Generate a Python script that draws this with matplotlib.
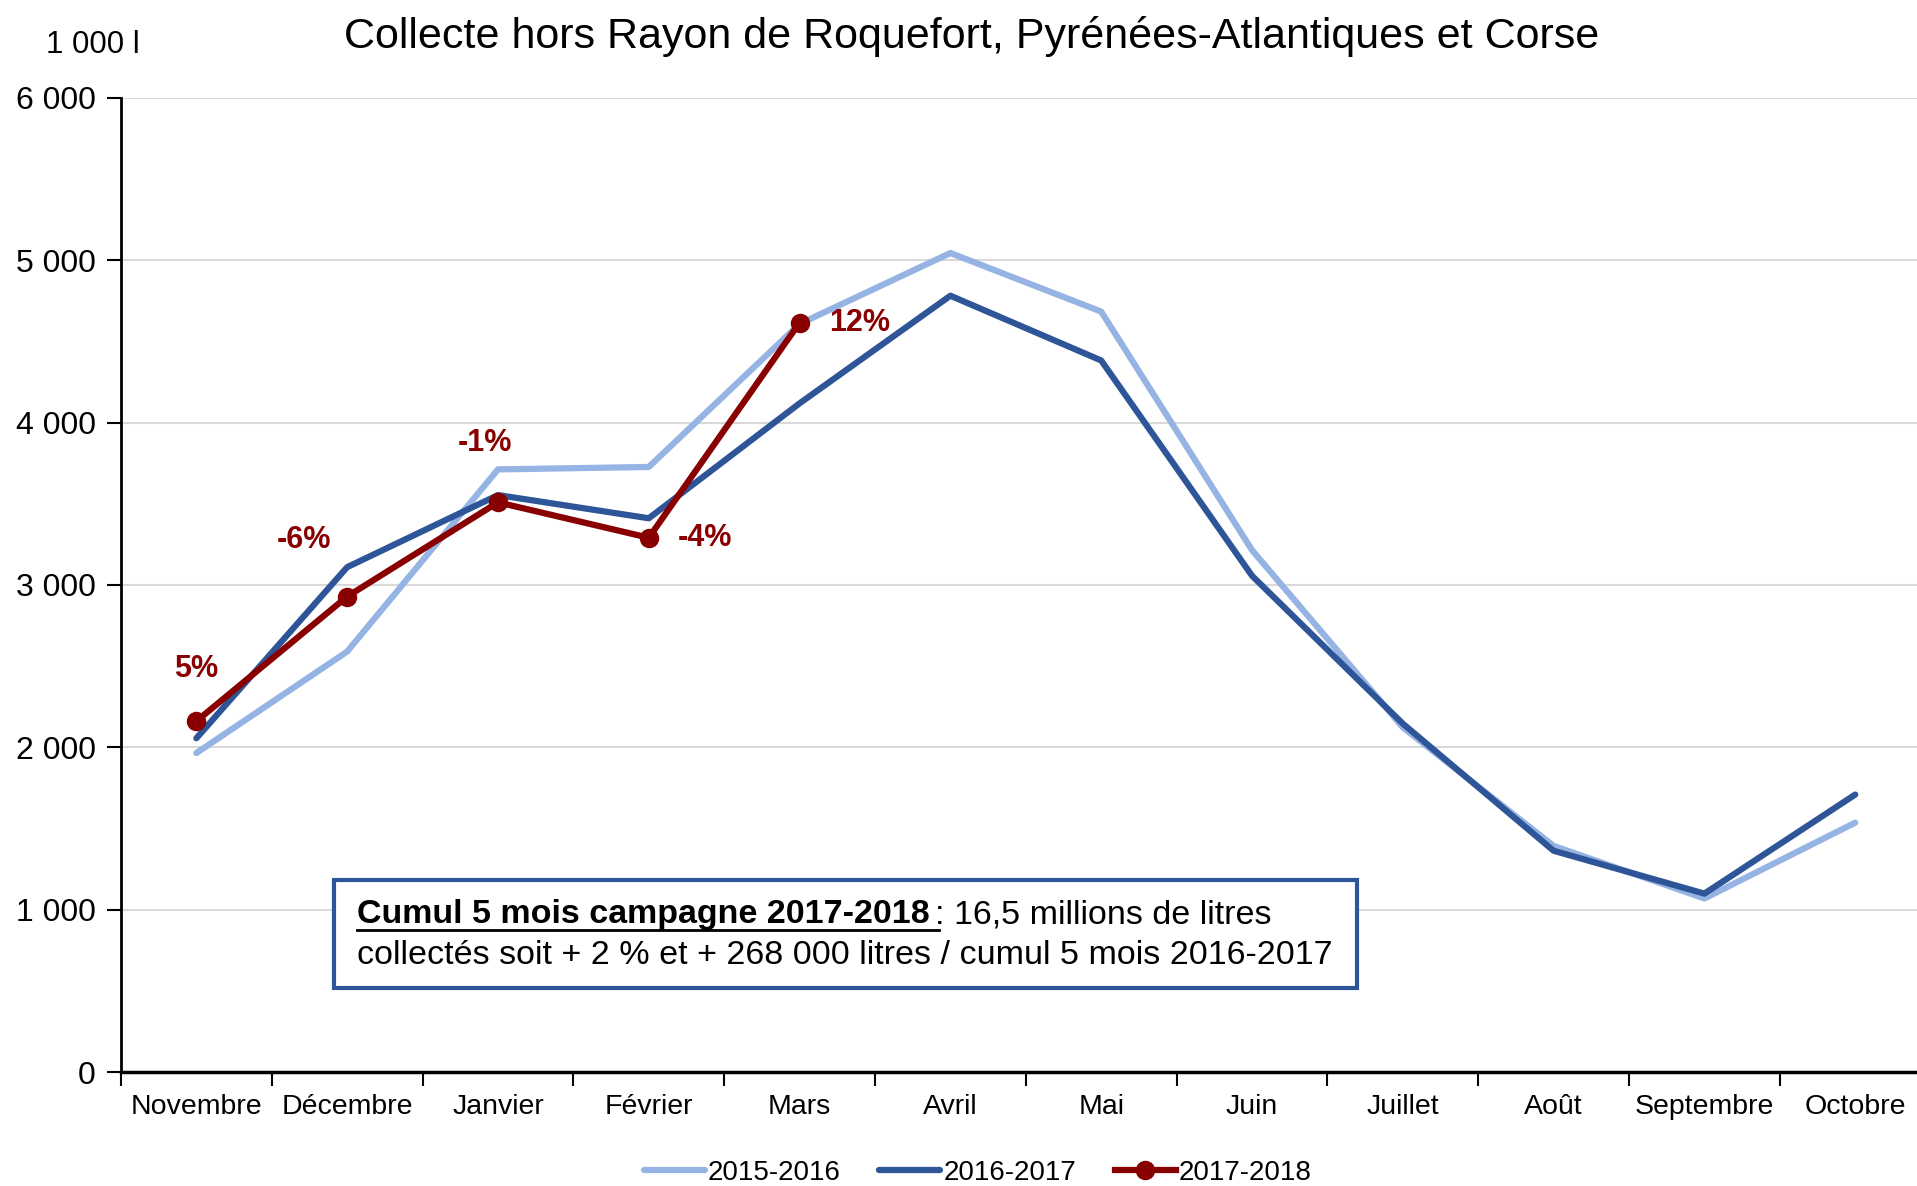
import matplotlib.pyplot as plt

plt.rcParams['font.family'] = ['Liberation Sans', 'DejaVu Sans']

mois = ['Novembre', 'Décembre', 'Janvier', 'Février', 'Mars', 'Avril',
        'Mai', 'Juin', 'Juillet', 'Août', 'Septembre', 'Octobre']
c2015 = [1965, 2590, 3712, 3727, 4608, 5045, 4684, 3215, 2123, 1393, 1069, 1536]
c2016 = [2056, 3110, 3554, 3411, 4119, 4782, 4383, 3057, 2146, 1363, 1099, 1709]
c2017 = [2161, 2929, 3509, 3291, 4616]
evol = ['5%', '-6%', '-1%', '-4%', '12%']
# decalage des etiquettes (pixels)
offs = [(0, 52), (-43, 57), (-13, 59), (56, 0), (60, 0)]

col_a = '#95B3E3'
col_b = '#2E5597'
col_c = '#880000'

fig = plt.figure(figsize=(19.17, 11.86), dpi=100)
ax = fig.add_axes([0.0631, 0.0961, 0.944, 0.8213])

x = list(range(len(mois)))
ax.plot(x, c2015, color=col_a, lw=4.5, label='2015-2016', solid_capstyle='round')
ax.plot(x, c2016, color=col_b, lw=4.5, label='2016-2017', solid_capstyle='round')
ax.plot(x[:len(c2017)], c2017, color=col_c, lw=4.5, marker='o', ms=13,
        label='2017-2018')

for i, t in enumerate(evol):
    ax.annotate(t, (i, c2017[i]), xytext=offs[i], textcoords='offset pixels',
                ha='center', va='center', fontsize=22, fontweight='bold',
                color=col_c)

ax.set_xlim(-0.5, 11.5)
ax.set_ylim(0, 6000)
ax.set_yticks(range(0, 6001, 1000))
ax.set_yticklabels(['0', '1 000', '2 000', '3 000', '4 000', '5 000', '6 000'])
ax.set_xticks(x)
ax.set_xticklabels(mois)
ax.set_xticks([i - 0.5 for i in range(13)], minor=True)
ax.tick_params(axis='x', which='major', length=0, labelsize=20.5, pad=16)
ax.tick_params(axis='x', which='minor', length=10, width=1.5, direction='out')
ax.tick_params(axis='y', length=10, width=1.5, labelsize=23, pad=8)
ax.grid(axis='y', color='#D9D9D9', lw=1.5)
ax.set_axisbelow(True)
for s in ['top', 'right']:
    ax.spines[s].set_visible(False)
ax.spines['left'].set_linewidth(2)
ax.spines['bottom'].set_linewidth(2.5)

fig.text(0.507, 0.969, 'Collecte hors Rayon de Roquefort, Pyrénées-Atlantiques et Corse',
         ha='center', va='center', fontsize=31)
fig.text(0.024, 0.962, '1 000 l', ha='left', va='center', fontsize=22.5)

# encadre
box = plt.Rectangle((334 / 1917, 1 - 988 / 1186), (1357 - 334) / 1917, 108 / 1186,
                    transform=fig.transFigure, fill=True, facecolor='white',
                    edgecolor=col_b, lw=3, zorder=5)
fig.patches.append(box)
t1 = fig.text(357 / 1917, 1 - 915 / 1186, 'Cumul 5 mois campagne 2017-2018 ',
              fontsize=24.5, fontweight='bold', va='center', ha='left', zorder=6)
fig.canvas.draw()
bb = t1.get_window_extent()
fig.add_artist(plt.Line2D([bb.x0, bb.x1], [bb.y0 + 1, bb.y0 + 1], color='black',
                          lw=2, transform=None, zorder=6))
fig.text(bb.x1 / 1917 - 0.002, 1 - 915 / 1186, ': 16,5 millions de litres',
         fontsize=24.5, va='center', ha='left', zorder=6)
fig.text(357 / 1917, 1 - 955 / 1186,
         'collectés soit + 2 % et + 268 000 litres / cumul 5 mois 2016-2017',
         fontsize=24.5, va='center', ha='left', zorder=6)

fig.legend(loc='center', bbox_to_anchor=(0.51, 0.011), ncol=3, frameon=False,
           fontsize=20, handlelength=2.2, handletextpad=0.1, columnspacing=1.4)

fig.savefig('out.png', dpi=100)
